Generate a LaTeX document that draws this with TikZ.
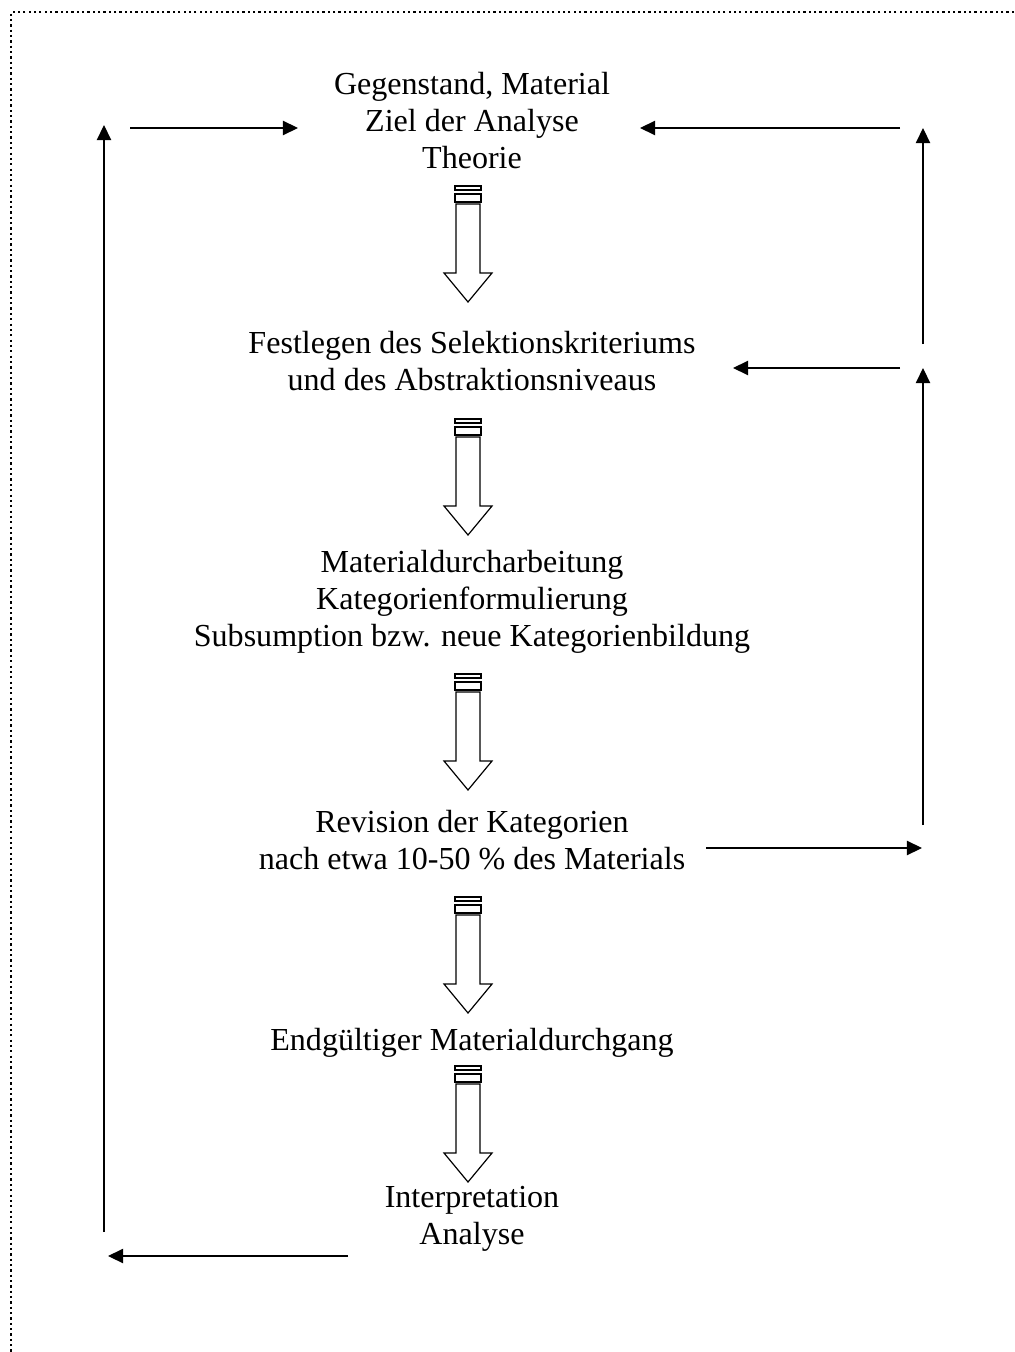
\documentclass[tikz,border=0pt]{standalone}
\usepackage{fontspec}
\setmainfont{Liberation Serif}
\usetikzlibrary{arrows.meta}

\begin{document}
\begin{tikzpicture}[
    x=0.025cm, y=-0.025cm,
    % Style for the text steps (no frame)
    txt/.style={align=center, inner sep=0pt, font=\fontsize{22.8}{26.3}\selectfont},
    % Style for the thin feedback arrows
    ray/.style={-{Triangle[length=3.8mm, width=3.6mm]}, line width=0.85pt},
    % Style for the hollow block arrows
    blk/.style={draw=black, line width=0.85pt, fill=white},
    % Style for the dotted page frame
    frame/.style={line width=1.6pt, dash pattern=on 1.6pt off 2.2pt}
]

% Macro for the striped hollow arrow pointing down
\newcommand{\stripearrow}[1]{
    \begin{scope}[shift={(#1)}]
        \draw[blk] (-13,0) rectangle (13,4);
        \draw[blk] (-13,8) rectangle (13,16);
        \draw[blk] (-12,18) -- (-12,87) -- (-24,87) -- (0,116) -- (24,87)
            -- (12,87) -- (12,18) -- cycle;
    \end{scope}
}

\useasboundingbox (0,0) rectangle (1014,1352);

% Dotted frame (top and left only)
\draw[frame] (1014,12) -- (11,12) -- (11,1352);

% ==========================
% Steps
% ==========================
\node[txt] (n1) at (472,121) {Gegenstand, Material\\Ziel der Analyse\\Theorie};
\node[txt] (n2) at (472,361) {Festlegen des Selektionskriteriums\\und des Abstraktionsniveaus};
\node[txt] (n3) at (472,602) {Materialdurcharbeitung\\Kategorienformulierung\\Subsumption bzw. neue Kategorienbildung};
\node[txt] (n4) at (472,840) {Revision der Kategorien\\nach etwa 10-50 \% des Materials};
\node[txt] (n5) at (472,1043) {Endgültiger Materialdurchgang};
\node[txt] (n6) at (472,1219) {Interpretation\\Analyse};

% ==========================
% Block arrows between steps
% ==========================
\coordinate (a1) at (468,186);
\coordinate (a2) at (468,419);
\coordinate (a3) at (468,674);
\coordinate (a4) at (468,897);
\coordinate (a5) at (468,1066);
\stripearrow{a1}
\stripearrow{a2}
\stripearrow{a3}
\stripearrow{a4}
\stripearrow{a5}

% ==========================
% Feedback loop on the left
% ==========================
\coordinate (l1) at (348,1256);
\coordinate (l2) at (108,1256);
\coordinate (l3) at (104,1232);
\coordinate (l4) at (104,125);
\coordinate (l5) at (130,128);
\coordinate (l6) at (298,128);
\draw[ray] (l1) -- (l2);
\draw[ray] (l3) -- (l4);
\draw[ray] (l5) -- (l6);

% ==========================
% Feedback loop on the right
% ==========================
\coordinate (r1) at (706,848);
\coordinate (r2) at (922,848);
\coordinate (r3) at (923,825);
\coordinate (r4) at (923,368);
\coordinate (r5) at (900,368);
\coordinate (r6) at (733,368);
\coordinate (r7) at (923,344);
\coordinate (r8) at (923,128);
\coordinate (r9) at (900,128);
\coordinate (r10) at (640,128);
\draw[ray] (r1) -- (r2);
\draw[ray] (r3) -- (r4);
\draw[ray] (r5) -- (r6);
\draw[ray] (r7) -- (r8);
\draw[ray] (r9) -- (r10);

\end{tikzpicture}
\end{document}
